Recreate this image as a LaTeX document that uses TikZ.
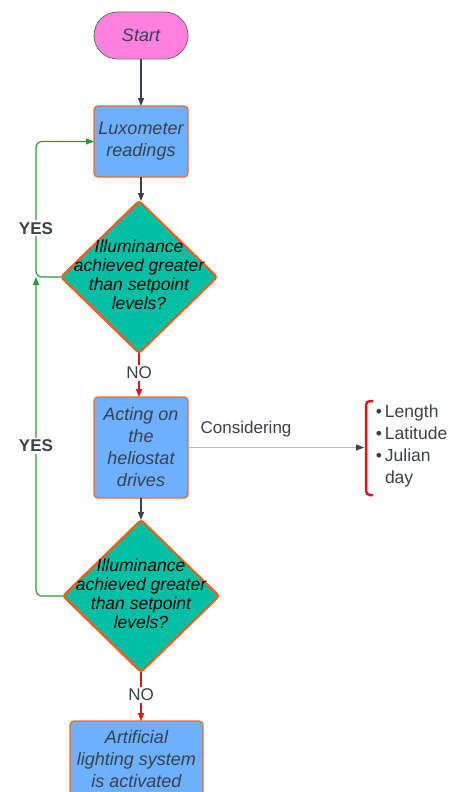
\documentclass[tikz,border=0pt]{standalone}
\usepackage{fontspec}
\setmainfont{Liberation Sans}
\usetikzlibrary{shapes.geometric, positioning, arrows.meta}
\definecolor{startpink}{HTML}{FF80DF}
\definecolor{startedge}{HTML}{6A6A72}
\definecolor{boxblue}{HTML}{6CB0FF}
\definecolor{boxedge}{HTML}{F26B21}
\definecolor{diateal}{HTML}{00BFA5}
\definecolor{diaedge}{HTML}{FF5A14}
\definecolor{inkgray}{HTML}{3A414A}
\definecolor{yesgreen}{HTML}{2A9A38}
\definecolor{nored}{HTML}{E8121B}
\newcommand{\itemdot}{\makebox[12pt][c]{\textbullet}}
\tikzset{every node/.style={node distance=24pt, outer sep=0pt}}

\begin{document}
\begin{tikzpicture}[x=1pt, y=-1pt, >={Triangle[length=8pt,width=6pt]},
    terminal/.style={draw=startedge, fill=startpink, line width=0.8pt, rounded corners=23.5pt,
      minimum width=94pt, minimum height=47pt, inner sep=0pt, text=inkgray,
      font=\fontsize{18}{22}\selectfont\itshape},
    process/.style={draw=boxedge, fill=boxblue, line width=1.3pt, rounded corners=4pt,
      minimum width=94pt, inner sep=0pt, text=inkgray, align=center,
      font=\fontsize{18}{22}\selectfont\itshape},
    decision/.style={diamond, draw=diaedge, fill=diateal, line width=2.2pt, rounded corners=3pt,
      minimum width=156pt, minimum height=152pt, inner sep=0pt},
    dtext/.style={align=center, text=black, inner sep=0pt, font=\fontsize{17.5}{19}\selectfont\itshape},
    flow/.style={->, draw=inkgray, line width=1.2pt},
    yes/.style={->, draw=yesgreen, line width=1.2pt, rounded corners=6pt},
    no/.style={->, draw=nored, line width=1.2pt},
    tag/.style={fill=white, text=inkgray, inner sep=2pt, font=\fontsize{17}{20}\selectfont},
    consider/.style={-{Triangle[length=8pt,width=6pt,color=inkgray]}, draw=gray!55, line width=1pt}]

    \clip (0,0) rectangle (450,792);

    % Steps
    \node[terminal] (start) at (141,35.5) {Start};
    \node[process, minimum height=71pt] (lux) [below=47pt of start] {Luxometer\\readings};
    \node[decision] (dia1) [below=24pt of lux, xshift=-2pt] {};
    \node[dtext] at ([yshift=2pt]dia1.center) {Illuminance\\achieved greater\\than setpoint\\levels?};
    \node[process, minimum height=101pt] (act) [below=44pt of dia1, xshift=2pt] {Acting on\\the\\heliostat\\drives};
    \node[decision] (dia2) [below=22pt of act] {};
    \node[dtext] at ([yshift=2pt]dia2.center) {Illuminance\\achieved greater\\than setpoint\\levels?};
    \node[process, minimum width=133pt, minimum height=76pt] (art) [below=49pt of dia2, xshift=-4.5pt]
        {Artificial\\lighting system\\is activated};

    % Factors
    \node[align=left, anchor=west, inner sep=0pt, text=inkgray, font=\fontsize{17.5}{22}\selectfont]
        (factors) at (373,446) {\itemdot Length\\\itemdot Latitude\\\itemdot Julian\\\hspace*{12pt}day};
    \draw[nored, line width=2.5pt, rounded corners=4pt] (373,401) -- (366,401) -- (366,495) -- (373,495);
    \path (act.east) -- ++(176,0) coordinate (brk);
    \coordinate (loop1) at (36,277);

    % Connectors
    \draw[flow] (start) -- (lux);
    \draw[flow] (lux) -- (lux |- dia1.north);
    \draw[no] (dia1.south) -- node[tag, pos=0.45] {NO} (act.north -| dia1.south);
    \draw[flow] (act) -- (dia2);
    \draw[no] (dia2.south) -- node[tag, pos=0.47] {NO} (art.north -| dia2.south);
    \draw[consider] (act.east) -- node[pos=0.33, above=7pt, text=inkgray, font=\fontsize{17}{20}\selectfont] {Considering} (brk);
    \draw[yes] (dia1.west) -- (loop1) |- node[tag, pos=0.18, font=\fontsize{17}{20}\selectfont\bfseries] {YES} (lux.west);
    \draw[yes] (dia2.west) -| node[tag, pos=0.735, font=\fontsize{17}{20}\selectfont\bfseries] {YES} (loop1);

\end{tikzpicture}
\end{document}
